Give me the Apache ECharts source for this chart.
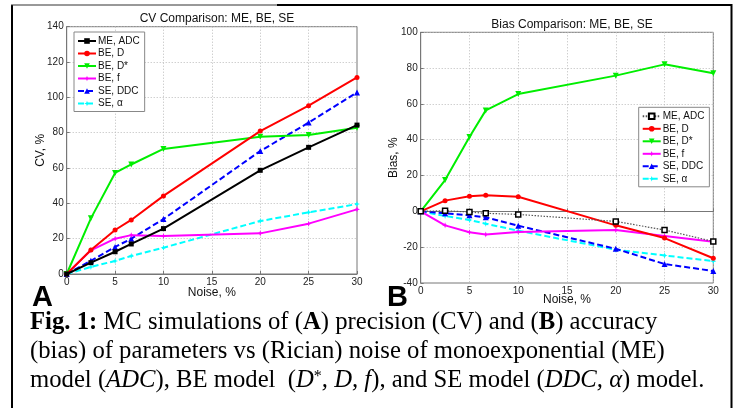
<!DOCTYPE html>
<html><head><meta charset="utf-8">
<script src="https://cdn.jsdelivr.net/npm/echarts@6/dist/echarts.min.js"></script>
<style>html,body{margin:0;padding:0;background:#fff}#c{width:735px;height:408px}</style>
</head><body><div id="c"></div><script>
// ---- data ----
const noise = [0, 2.5, 5, 6.67, 10, 20, 25, 30];
const seriesNames = ['ME, ADC', 'BE, D', 'BE, D*', 'BE, f', 'SE, DDC', 'SE, \u03b1'];
// CV (%)
const cvME_ADC = [0, 6.4, 12.6, 17.0, 25.7, 58.7, 71.7, 84.3];
const cvBE_D   = [0, 13.6, 24.9, 30.6, 44.2, 80.9, 95.3, 111.3];
const cvBE_Ds  = [0, 31.5, 57.2, 62.0, 70.8, 77.7, 78.7, 82.8];
const cvBE_f   = [0, 13.4, 20.0, 22.0, 21.5, 23.0, 28.5, 36.6];
const cvSE_DDC = [0, 7.5, 15.3, 20.0, 31.1, 69.6, 85.7, 102.8];
const cvSE_a   = [0, 4.0, 7.4, 10.2, 14.9, 30.0, 34.9, 39.6];
// Bias (%)
const biasME_ADC = [0, 0.4, -0.4, -1.1, -1.7, -5.6, -10.4, -16.8];
const biasBE_D   = [0, 6.0, 8.4, 9.0, 8.2, -7.8, -14.9, -26.2];
const biasBE_Ds  = [0, 17.5, 41.5, 56.4, 65.5, 75.8, 82.1, 77.1];
const biasBE_f   = [0, -7.8, -11.7, -12.9, -11.5, -10.4, -13.8, -17.0];
const biasSE_DDC = [0, -1.1, -2.2, -3.3, -8.0, -20.9, -29.4, -33.3];
const biasSE_a   = [0, -2.6, -4.8, -6.9, -10.8, -21.4, -24.6, -27.8];
// axis ticks
const xTicks = [0, 5, 10, 15, 20, 25, 30];
const cvTicks = [0, 20, 40, 60, 80, 100, 120, 140];
const biasTicks = [-40, -20, 0, 20, 40, 60, 80, 100];

const STAR = 'path://M0,-5L1.3,-1.3L5,0L1.3,1.3L0,5L-1.3,1.3L-5,0L-1.3,-1.3Z';
const styles = [
  {color:'#000000', symbol:'rect', size:5, type:'solid', width:2},
  {color:'#ff0000', symbol:'circle', size:5, type:'solid', width:2},
  {color:'#00ee00', symbol:'triangle', size:6, type:'solid', width:2, rotate:180},
  {color:'#ff00ff', symbol:STAR, size:6, type:'solid', width:2},
  {color:'#0000ff', symbol:'triangle', size:6, type:'dashed', width:2},
  {color:'#00ffff', symbol:STAR, size:6, type:'dashed', width:2}
];
const zip = a => noise.map((x, i) => [x, a[i]]);
const cvData = [cvME_ADC, cvBE_D, cvBE_Ds, cvBE_f, cvSE_DDC, cvSE_a];
const biasData = [biasME_ADC, biasBE_D, biasBE_Ds, biasBE_f, biasSE_DDC, biasSE_a];

const series = [];
cvData.forEach((d, i) => {
  const s = styles[i];
  series.push({
    name: 'L:' + seriesNames[i], type: 'line', xAxisIndex: 0, yAxisIndex: 0,
    data: zip(d), symbol: s.symbol, symbolSize: s.size, symbolRotate: s.rotate || 0,
    showAllSymbol: true, animation: false,
    lineStyle: {color: s.color, width: s.width, type: s.type === 'dashed' ? [6, 3] : 'solid'},
    itemStyle: {color: s.color}, z: 10 - i
  });
});
biasData.forEach((d, i) => {
  const s = styles[i];
  const isME = i === 0;
  series.push({
    name: 'R:' + seriesNames[i], type: 'line', xAxisIndex: 1, yAxisIndex: 1,
    data: zip(d), symbol: s.symbol, symbolSize: s.size, symbolRotate: s.rotate || 0,
    showAllSymbol: true, animation: false,
    lineStyle: isME ? {color: '#555', width: 1.2, type: [1.5, 1.5]} :
      {color: s.color, width: s.width, type: s.type === 'dashed' ? [6, 3] : 'solid'},
    itemStyle: isME ? {color: '#fff', borderColor: '#000', borderWidth: 1.5} : {color: s.color},
    z: 10 - i
  });
});

const axisFont = {fontFamily: 'Liberation Sans', fontSize: 10, color: '#222'};
function xAx(gi) {
  return {
    type: 'value', gridIndex: gi, min: 0, max: 30, interval: 5,
    name: 'Noise, %', nameLocation: 'middle', nameGap: gi === 0 ? 13 : 11, nameMoveOverlap: false,
    nameTextStyle: {fontFamily: 'Liberation Sans', fontSize: 12, color: '#111'},
    axisLine: {show: true, lineStyle: {color: '#777', width: 1}},
    axisTick: {show: true, inside: true, length: 3, lineStyle: {color: '#777'}},
    axisLabel: Object.assign({margin: 3}, axisFont),
    splitLine: {show: true, lineStyle: {color: '#bbb', type: [1, 2], width: 1}}
  };
}
function yAx(gi, min, max, name, gap) {
  return {
    type: 'value', gridIndex: gi, min: min, max: max, interval: 20,
    name: name, nameLocation: 'middle', nameGap: gap, nameRotate: 90, nameMoveOverlap: false,
    nameTextStyle: {fontFamily: 'Liberation Sans', fontSize: 12, color: '#111'},
    axisLine: {show: true, lineStyle: {color: '#777', width: 1}},
    axisTick: {show: true, inside: true, length: 3, lineStyle: {color: '#777'}},
    axisLabel: Object.assign({margin: 3}, axisFont),
    splitLine: {show: true, lineStyle: {color: '#bbb', type: [1, 2], width: 1}}
  };
}
const legendBase = {
  orient: 'vertical', itemWidth: 18, itemHeight: 7, itemGap: 2.5,
  backgroundColor: '#fff', borderColor: '#888', borderWidth: 1,
  padding: [4, 5, 3, 3], borderRadius: 0,
  textStyle: {fontFamily: 'Liberation Sans', fontSize: 10, color: '#111', padding: [0, 0, 0, -3], lineHeight: 10},
  formatter: n => n.slice(2), selectedMode: false
};

const chart = echarts.init(document.getElementById('c'), null, {renderer: 'canvas'});
chart.setOption({
  backgroundColor: '#fff',
  animation: false,
  title: [
    {text: 'CV Comparison: ME, BE, SE', left: 212, top: 8, textAlign: 'center',
     textStyle: {fontFamily: 'Liberation Sans', fontSize: 12, fontWeight: 'normal', color: '#111'}},
    {text: 'Bias Comparison: ME, BE, SE', left: 567, top: 14, textAlign: 'center',
     textStyle: {fontFamily: 'Liberation Sans', fontSize: 12, fontWeight: 'normal', color: '#111'}}
  ],
  grid: [
    {left: 66.7, top: 26.7, width: 290.3, height: 247.3, show: true, borderColor: '#777', borderWidth: 1, backgroundColor: 'transparent', containLabel: false},
    {left: 420.7, top: 32.3, width: 292.6, height: 250.7, show: true, borderColor: '#777', borderWidth: 1, backgroundColor: 'transparent', containLabel: false}
  ],
  xAxis: [xAx(0), xAx(1)],
  yAxis: [yAx(0, 0, 140, 'CV, %', 20), yAx(1, -40, 100, 'Bias, %', 21)],
  legend: [
    Object.assign({}, legendBase, {left: 74, top: 32, data: seriesNames.map(n => 'L:' + n)}),
    Object.assign({}, legendBase, {left: 638.7, top: 107.3, data: seriesNames.map(n => 'R:' + n)})
  ],
  series: series,
  graphic: [
    {type: 'line', shape: {x1: 12, y1: 5, x2: 12, y2: 408}, style: {stroke: '#000', lineWidth: 2}},
    {type: 'line', shape: {x1: 11, y1: 5, x2: 277, y2: 5}, style: {stroke: '#333', lineWidth: 1}},
    {type: 'line', shape: {x1: 277, y1: 5, x2: 732, y2: 5}, style: {stroke: '#000', lineWidth: 2}},
    {type: 'line', shape: {x1: 731.5, y1: 4, x2: 731.5, y2: 408}, style: {stroke: '#000', lineWidth: 2}},
    {type: 'text', style: {text: 'A', x: 32, y: 298, font: 'bold 29px "Liberation Sans"', fill: '#000', textVerticalAlign: 'middle'}},
    {type: 'text', style: {text: 'B', x: 387, y: 298, font: 'bold 29px "Liberation Sans"', fill: '#000', textVerticalAlign: 'middle'}},
    {type: 'text', style: {
      text: '{b|Fig. 1:} MC simulations of ({b|A}) precision (CV) and ({b|B}) accuracy',
      x: 30, y: 323, textVerticalAlign: 'middle', font: '24.7px "Liberation Serif"', fill: '#000',
      rich: {b: {fontWeight: 'bold', fontFamily: 'Liberation Serif', fontSize: 24.7}}}},
    {type: 'text', style: {
      text: '(bias) of parameters vs (Rician) noise of monoexponential (ME)',
      x: 30, y: 352, textVerticalAlign: 'middle', font: '24.7px "Liberation Serif"', fill: '#000'}},
    {type: 'text', style: {
      text: 'model ({i|ADC}), BE model  ({i|D}{s|*}{i|, D, f}), and SE model ({i|DDC, \u03b1}) model.',
      x: 30, y: 381, textVerticalAlign: 'middle', font: '24.7px "Liberation Serif"', fill: '#000',
      rich: {i: {fontStyle: 'italic', fontFamily: 'Liberation Serif', fontSize: 24.7},
             s: {fontFamily: 'Liberation Serif', fontSize: 16, verticalAlign: 'top', padding: [0, 0, 9, 0]}}}}
  ]
});
</script></body></html>
